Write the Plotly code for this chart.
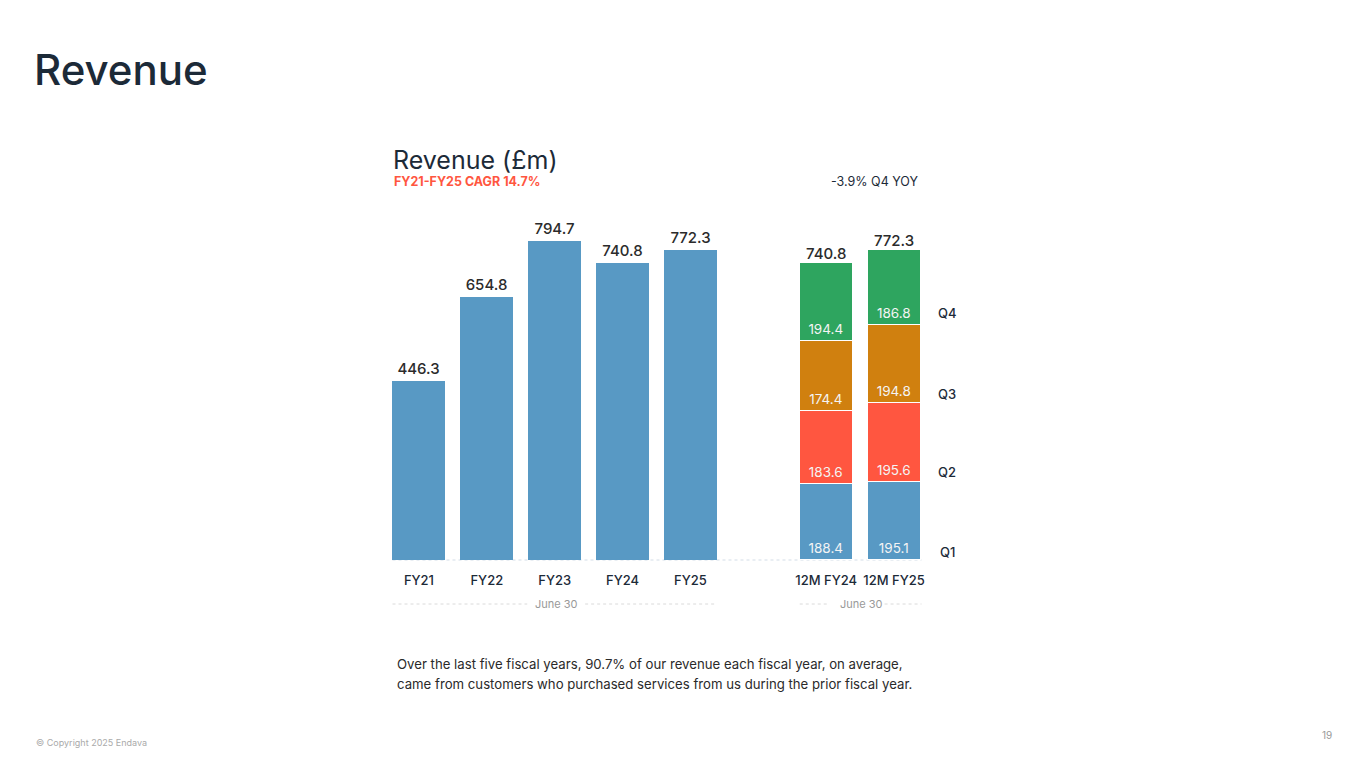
import plotly.graph_objects as go

# ---- data ----
fy_labels = ["FY21", "FY22", "FY23", "FY24", "FY25"]
fy_revenue = [446.3, 654.8, 794.7, 740.8, 772.3]
ttm_labels = ["12M FY24", "12M FY25"]
q1 = [188.4, 195.1]
q2 = [183.6, 195.6]
q3 = [174.4, 194.8]
q4 = [194.4, 186.8]
ttm_totals = [740.8, 772.3]
quarter_names = ["Q1", "Q2", "Q3", "Q4"]

# ---- style ----
FONT = "Inter, Open Sans, sans-serif"
DARK = "#1c2a38"
BLUE = "#5899c4"
RED = "#ff5640"
ORANGE = "#d0800f"
GREEN = "#2ea55f"
OFF = 8  # page offset of the figure
W, H = 1365 - OFF * 2, 768 - OFF * 2
L, T = 384.5 - OFF, 219 - OFF
PW, PH = 544, 341
R, B = W - L - PW, H - T - PH
YMAX = 850

def px(xp):
    return (xp - OFF - L) / PW

def py(yp):
    return (T + PH - (yp - OFF)) / PH

fy_x = [0, 1, 2, 3, 4]
ttm_x = [6, 7]
bw = 0.78

fig = go.Figure()
fig.add_trace(go.Bar(
    x=fy_x, y=fy_revenue, width=bw, marker=dict(color=BLUE, line=dict(width=0)),
    text=[f"{v:.1f}" for v in fy_revenue], textposition="outside",
    textfont=dict(size=15, color="#2b2b2b", family=FONT, weight=500), cliponaxis=False,
    hoverinfo="skip"))

for vals, col in zip([q1, q2, q3, q4], [BLUE, RED, ORANGE, GREEN]):
    fig.add_trace(go.Bar(
        x=ttm_x, y=vals, width=bw,
        marker=dict(color=col, line=dict(color="white", width=1.5)),
        text=[f"{v:.1f}" for v in vals], textposition="inside",
        insidetextanchor="start", textangle=0,
        insidetextfont=dict(size=13.5, color="#f4f4f4", family=FONT),
        hoverinfo="skip"))

fig.add_trace(go.Scatter(
    x=ttm_x, y=ttm_totals, mode="text",
    text=[f"{v:.1f}" for v in ttm_totals], textposition="top center",
    textfont=dict(size=15, color="#2b2b2b", family=FONT, weight=500), cliponaxis=False,
    hoverinfo="skip"))

# quarter labels at right (aligned to the 12M FY25 segments)
cum = 0
for name, vals in zip(quarter_names, [q1, q2, q3, q4]):
    fig.add_annotation(x=px(948), y=cum / YMAX, xref="paper", yref="paper", text=name,
                       showarrow=False, yshift=8 + 1.5 * (name != "Q1") + 3 * (name == "Q4"),
                       xanchor="center", yanchor="middle",
                       font=dict(size=13, color=DARK, family=FONT, weight=500))
    cum += vals[1]

annots = [
    dict(x=px(31), y=py(70), text="Revenue", size=42, color=DARK, xanchor="left", weight=500),
    dict(x=px(391), y=py(160), text="Revenue (£m)", size=25, color=DARK, xanchor="left", weight=400),
    dict(x=px(392), y=py(181), text="FY21-FY25 CAGR 14.7%", size=12.5, color=RED, xanchor="left", weight=700),
    dict(x=px(920), y=py(181), text="-3.9% Q4 YOY", size=12.5, color=DARK, xanchor="right", weight=400),
    dict(x=px(556), y=py(604), text="June 30", size=11, color="#999999", xanchor="center", weight=400),
    dict(x=px(862), y=py(604), text="June 30", size=11, color="#999999", xanchor="center", weight=400),
    dict(x=px(395), y=py(664), text="Over the last five fiscal years, 90.7% of our revenue each fiscal year, on average,",
         size=13.2, color="#2a2a2a", xanchor="left", weight=400),
    dict(x=px(395), y=py(684), text="came from customers who purchased services from us during the prior fiscal year.",
         size=13.2, color="#2a2a2a", xanchor="left", weight=400),
    dict(x=px(33), y=py(742), text="© Copyright 2025 Endava", size=9, color="#aaaaaa", xanchor="left", weight=400),
    dict(x=px(1335), y=py(735), text="19", size=10, color="#999999", xanchor="right", weight=400),
]
for a in annots:
    fig.add_annotation(x=a["x"], y=a["y"], xref="paper", yref="paper", text=a["text"],
                       showarrow=False, xanchor=a["xanchor"], yanchor="middle",
                       font=dict(size=a["size"], color=a["color"], family=FONT, weight=a["weight"]))

# dotted guide lines
lines = [(392, 922, 560, "#d3dde7"), (392, 527, 604, "#dadada"), (585, 716, 604, "#dadada"),
         (800, 830, 604, "#dadada"), (885, 922, 604, "#dadada")]
for x0, x1, yy, c in lines:
    fig.add_shape(type="line", xref="paper", yref="paper", x0=px(x0), x1=px(x1),
                  y0=py(yy), y1=py(yy), line=dict(color=c, width=1, dash="dot"), layer="below")

fig.update_layout(
    width=W, height=H, margin=dict(l=L, r=R, t=T, b=B, autoexpand=False),
    barmode="stack", showlegend=False, bargap=0,
    paper_bgcolor="white", plot_bgcolor="white",
    font=dict(family=FONT, color=DARK),
    xaxis=dict(range=[-0.5, 7.5], tickvals=fy_x + ttm_x, ticktext=fy_labels + ttm_labels,
               showgrid=False, zeroline=False, showline=False, ticks="",
               tickfont=dict(size=13, color=DARK, family=FONT, weight=500), ticklabelstandoff=11,
               fixedrange=True),
    yaxis=dict(range=[0, YMAX], visible=False, fixedrange=True),
)

fig.write_html("out.html", config={"displayModeBar": False})
